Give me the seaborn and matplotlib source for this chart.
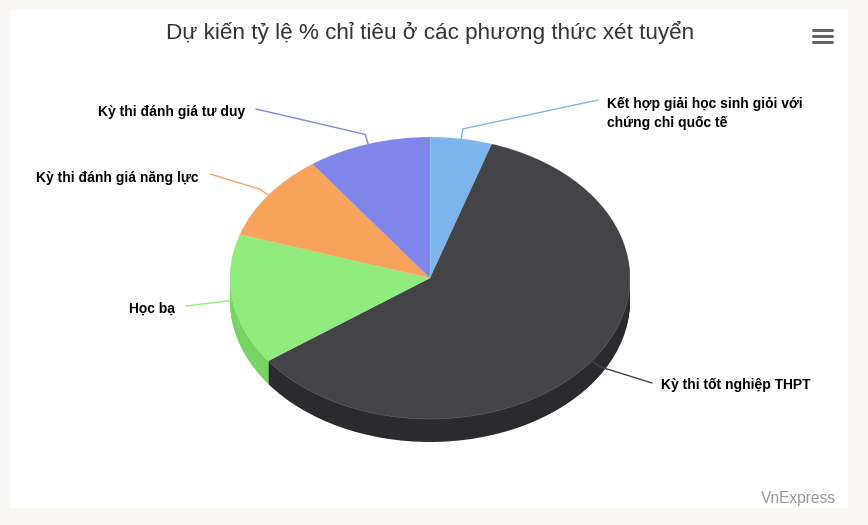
import numpy as np
import matplotlib.pyplot as plt
import seaborn as sns
from matplotlib.patches import Rectangle
from matplotlib.lines import Line2D

# data (percent of quota)
labels = [
    "Kết hợp giải học sinh giỏi với\nchứng chỉ quốc tế",
    "Kỳ thi tốt nghiệp THPT",
    "Học bạ",
    "Kỳ thi đánh giá năng lực",
    "Kỳ thi đánh giá tư duy",
]
values = [5, 60, 15, 10, 10]
colors = ["#7cb5ec", "#434348", "#90ed7d", "#f7a35c", "#8085e9"]
title = "Dự kiến tỷ lệ % chỉ tiêu ở các phương thức xét tuyển"
credit = "VnExpress"

# layout (pixels in the 868x525 picture)
W, H = 868, 525
CX, CY, RX, RY, DEPTH = 430, 278, 200, 141, 23
# where each connector ends, and on which side the text sits
label_ends = [(598, 100), (652, 383), (186, 306), (210, 174), (256, 109)]
label_side = ["left", "left", "right", "right", "right"]
label_dy = [13, 2, 3, 4, 3]

sns.set_theme(style="white")
plt.rcParams["font.family"] = ["Liberation Sans", "DejaVu Sans"]


def to_data(px, py):
    return (px - CX) / RX, (CY - py) / RY


def darken(c, amount=25.5):
    rgb = np.array(sns.color_palette([c])[0]) * 255 - amount
    return tuple(np.clip(rgb, 0, 255) / 255)


side_colors = [darken(c) for c in colors]

fig = plt.figure(figsize=(W / 100, H / 100), dpi=100, facecolor="#faf8f3")
fig.patches.append(Rectangle((11 / W, 1 - 508 / H), (848 - 11) / W, (508 - 9) / H,
                             transform=fig.transFigure, facecolor="white",
                             edgecolor="none", zorder=-5))

ax = fig.add_axes([0, 0, 1, 1])
ax.patch.set_alpha(0)

# 3D look: stack darker pies below the top face
depth_units = DEPTH / RY
for off in np.linspace(depth_units, 0, DEPTH + 1)[:-1]:
    ax.pie(values, colors=side_colors, startangle=90, counterclock=False,
           center=(0, -off), radius=1, wedgeprops=dict(linewidth=0))
ax.pie(values, colors=colors, startangle=90, counterclock=False,
       center=(0, 0), radius=1, wedgeprops=dict(linewidth=0.3, edgecolor="#ffffff55"))

ax.set_aspect("auto")
ax.set_xlim((0 - CX) / RX, (W - CX) / RX)
ax.set_ylim((CY - H) / RY, CY / RY)
ax.axis("off")

# data labels with connectors
cum = np.cumsum(values) - np.array(values) / 2
total = sum(values)
for i, lab in enumerate(labels):
    ang = np.deg2rad(90 - cum[i] / total * 360)
    ax0, ay0 = np.cos(ang), np.sin(ang)
    # short outward stub in pixel space
    px0, py0 = CX + RX * ax0, CY - RY * ay0
    px1, py1 = px0 + 10 * ax0, py0 - 10 * ay0
    ex, ey = label_ends[i]
    xs, ys = zip(*[to_data(px0, py0), to_data(px1, py1), to_data(ex, ey)])
    ax.plot(xs, ys, color=colors[i], lw=1, solid_capstyle="round")
    if label_side[i] == "left":
        tx, ha = ex + 9, "left"
    else:
        tx, ha = ex - 11, "right"
    ax.text(*to_data(tx, ey + label_dy[i]), lab, ha=ha, va="center",
            fontsize=10, fontweight="bold", color="black", linespacing=1.45)

fig.text(CX / W, 1 - 32 / H, title, ha="center", va="center",
         fontsize=16.2, color="#333333")
fig.text(836 / W, 1 - 498 / H, credit, ha="right", va="center",
         fontsize=11.2, color="#999999")

# context menu icon
for yy in (29.5, 35.5, 41.5):
    fig.add_artist(Line2D([813 / W, 832 / W], [1 - yy / H, 1 - yy / H],
                          transform=fig.transFigure, color="#666666",
                          lw=2.2, solid_capstyle="round"))

fig.savefig("out.png", dpi=100, facecolor=fig.get_facecolor())
